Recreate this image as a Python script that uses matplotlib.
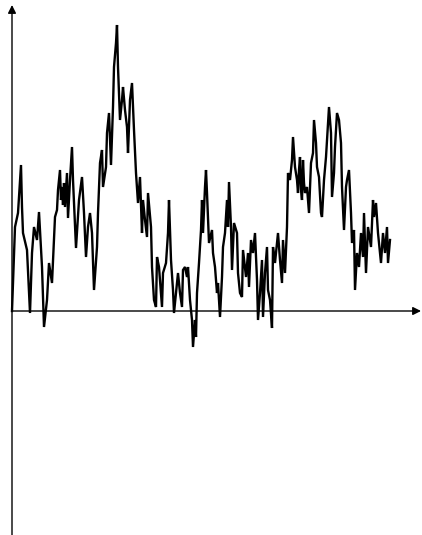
import matplotlib
matplotlib.use("Agg")
import matplotlib.pyplot as plt

# time (arbitrary units) and level of the path
t = [0, 3, 6, 9, 10, 11, 15, 18, 20, 22, 25, 27, 30, 32, 35, 37, 40, 43, 45, 46,
     47, 48, 49, 50, 51, 52, 53, 54, 55, 56, 58, 60, 61, 64, 67, 70, 72, 74, 76, 78,
     80, 82, 85, 86, 88, 90, 91, 94, 95, 97, 99, 101, 102, 104, 105, 106, 108, 110, 111, 113,
     115, 116, 118, 120, 122, 124, 126, 128, 130, 131, 133, 135, 136, 139, 140, 142, 144, 145, 147, 150,
     151, 154, 156, 157, 159, 161, 162, 164, 166, 168, 170, 171, 173, 175, 176, 178, 180, 181, 183, 184,
     185, 187, 189, 190, 191, 193, 194, 195, 197, 200, 201, 203, 205, 206, 208, 210, 211, 213, 215, 216,
     217, 219, 220, 222, 225, 226, 228, 230, 231, 234, 236, 237, 239, 241, 243, 245, 246, 248, 250, 251,
     253, 255, 256, 258, 260, 261, 263, 265, 266, 268, 270, 271, 273, 275, 276, 278, 280, 281, 283, 285,
     286, 287, 288, 289, 290, 291, 292, 293, 295, 297, 299, 301, 302, 304, 305, 307, 309, 310, 312, 314,
     316, 317, 319, 320, 322, 323, 325, 327, 329, 330, 332, 334, 335, 337, 339, 340, 342, 343, 345, 347,
     349, 351, 352, 354, 356, 359, 361, 362, 364, 366, 369, 371, 373, 375, 376, 378]
w = [0, 84, 98, 146, 104, 78, 61, -2, 58, 84, 71, 99, 44, -16, 11, 48, 28, 94, 101, 121,
     131, 141, 111, 124, 106, 128, 104, 121, 138, 93, 131, 164, 131, 63, 111, 134, 98, 54, 84, 98,
     78, 21, 64, 98, 148, 161, 124, 144, 178, 198, 146, 204, 244, 268, 286, 244, 191, 211, 224, 201,
     184, 158, 211, 228, 181, 138, 108, 134, 78, 111, 91, 74, 118, 84, 44, 11, 4, 54, 44, 4,
     38, 48, 78, 111, 51, 21, -2, 18, 38, 18, 4, 41, 44, 34, 44, 11, -9, -36, -9, -26,
     18, 48, 81, 111, 78, 124, 141, 118, 68, 81, 58, 44, 18, 28, -6, 34, 64, 78, 111, 84,
     129, 84, 41, 88, 78, 38, 18, 14, 61, 34, 58, 24, 71, 58, 78, 31, -9, 18, 51, -6,
     38, 64, 21, 11, -17, 64, 48, 68, 78, 51, 28, 71, 38, 84, 138, 131, 151, 174, 144, 131,
     118, 141, 154, 121, 111, 151, 128, 118, 124, 98, 148, 158, 191, 168, 144, 134, 98, 94, 131, 154,
     188, 204, 178, 114, 138, 164, 198, 191, 168, 124, 81, 124, 131, 141, 98, 68, 81, 21, 58, 44,
     78, 54, 98, 38, 84, 64, 111, 94, 108, 78, 48, 78, 58, 84, 48, 71]

fig = plt.figure(figsize=(4.22, 5.35), dpi=100)
ax = fig.add_axes([0, 0, 1, 1])
ax.set_xlim(-12, 410)
ax.set_ylim(-224, 311)
ax.axis("off")

ax.plot(t, w, color="black", lw=1.7, solid_joinstyle="miter")

arrow = dict(arrowstyle="-|>", color="black", lw=1.0, mutation_scale=12, shrinkA=0, shrinkB=0)
ax.annotate("", xy=(0, 306), xytext=(0, -224), arrowprops=arrow)
ax.annotate("", xy=(409, 0), xytext=(0, 0), arrowprops=arrow)

fig.savefig("out.png", dpi=100)
